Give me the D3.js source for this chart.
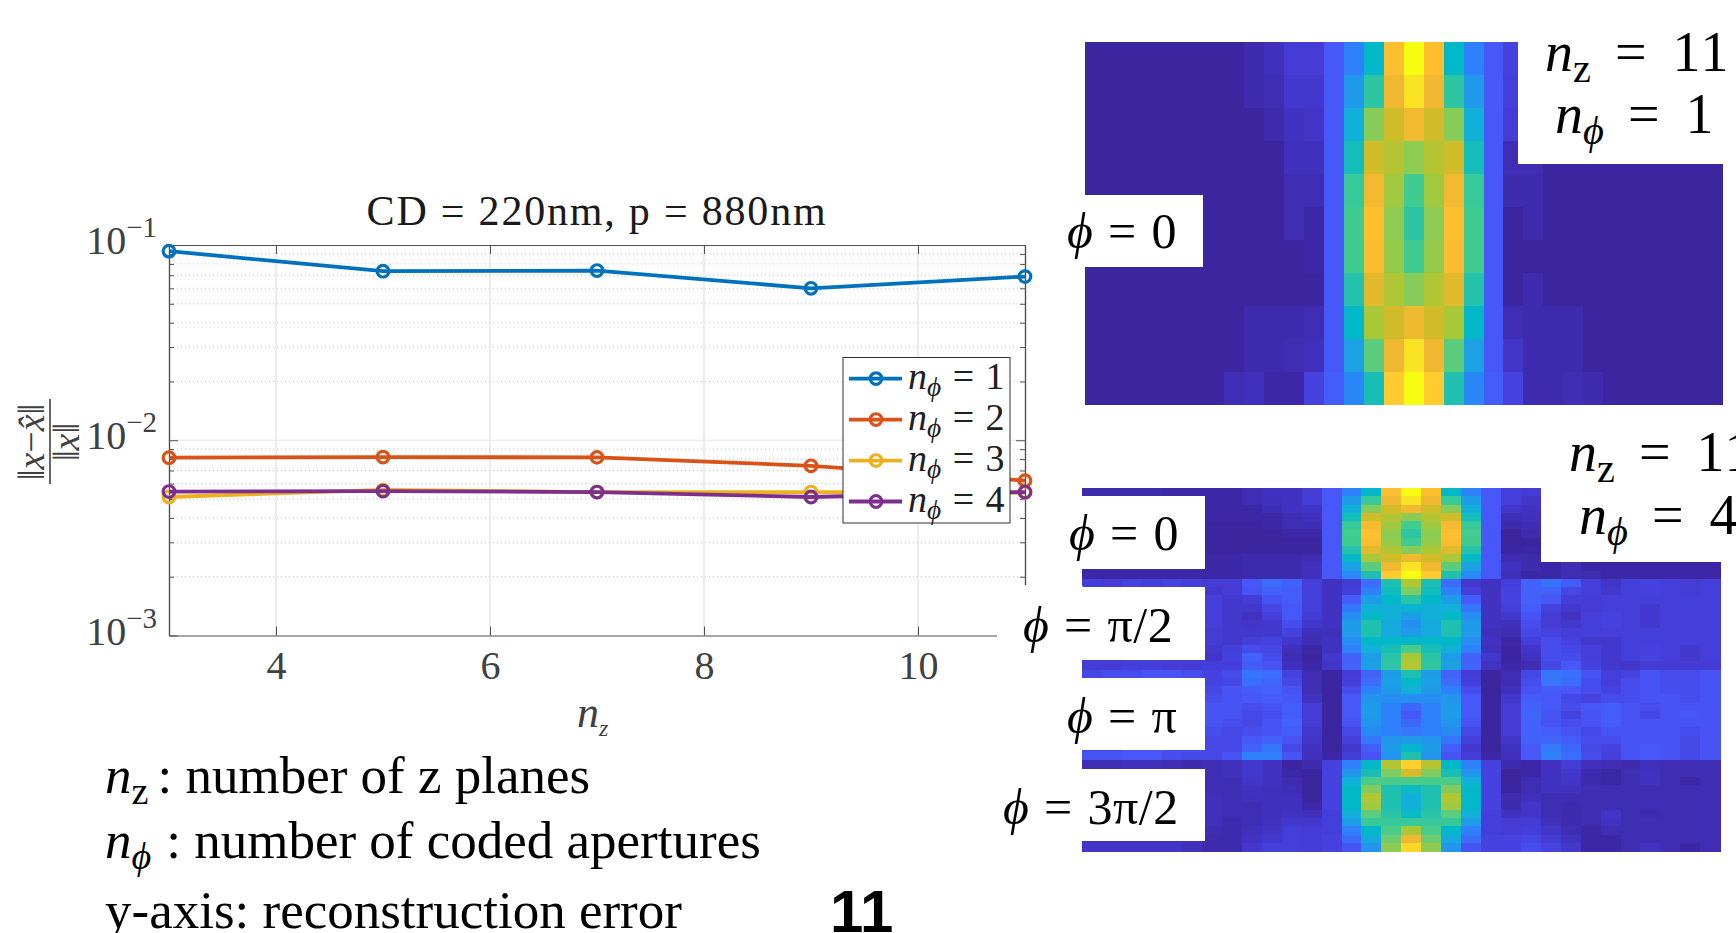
<!DOCTYPE html>
<html>
<head>
<meta charset="utf-8">
<script src="https://cdn.jsdelivr.net/npm/d3@7"></script>
<style>
html, body { margin: 0; padding: 0; background: #fff; overflow: hidden; }
text { font-family: "Liberation Serif", serif; }
</style>
</head>
<body>
<script>
var w = 1736;
var h = 933;

// line chart values
var nzValues = [3, 5, 7, 9, 11];
var errPhi1 = [0.093, 0.0734, 0.074, 0.06, 0.0689];
var errPhi2 = [0.00814, 0.0082, 0.00817, 0.0074, 0.00621];
var errPhi3 = [0.00512, 0.00557, 0.00543, 0.00543, 0.0054];
var errPhi4 = [0.00546, 0.00549, 0.00543, 0.00512, 0.00543];
var seriesValues = [errPhi1, errPhi2, errPhi3, errPhi4];
var seriesNames = ["1", "2", "3", "4"];
var seriesColors = ["#0072BD", "#D95319", "#EDB120", "#7E2F8E"];
var xTicks = [4, 6, 8, 10];
var yTicks = [1e-3, 1e-2, 1e-1];
var yExponents = ["\u22123", "\u22122", "\u22121"];
var yMinorFactors = [2, 3, 4, 5, 6, 7, 8, 9];

// heatmap values, 0 to 100 on the colour bar, x = hidden under a white label
var x = null;
var heatTop = [
[0,0,0,0,0,0,0,0,2,4,8,8,14,22,42,89,100,89,42,22,14,10,x,x,x,x,x,x,x,x,x,x],
[0,0,0,0,0,0,0,0,2,3,7,7,14,29,53,84,96,84,53,29,14,9,x,x,x,x,x,x,x,x,x,x],
[0,0,0,0,0,0,0,0,0,2,5,6,14,38,65,76,85,76,65,38,14,8,x,x,x,x,x,x,x,x,x,x],
[0,0,0,0,0,0,0,0,0,0,4,4,14,47,76,72,66,72,76,47,14,3,3,0,0,0,0,0,0,0,0,0],
[0,0,0,0,0,0,0,0,0,0,3,3,14,55,85,69,57,69,85,55,14,2,2,0,0,0,0,0,0,0,0,0],
[0,0,0,0,0,0,0,0,0,0,3,1,14,57,90,66,53,66,90,57,14,0,2,0,0,0,0,0,0,0,0,0],
[0,0,0,0,0,0,0,0,0,0,0,1,14,57,88,67,57,67,88,57,14,0,0,0,0,0,0,0,0,0,0,0],
[0,0,0,0,0,0,0,0,0,0,0,0,14,51,80,71,65,71,80,51,14,0,2,0,0,0,0,0,0,0,0,0],
[0,0,0,0,0,0,0,0,2,2,2,3,14,42,70,76,83,76,70,42,14,3,2,2,2,0,0,0,0,0,0,0],
[0,0,0,0,0,0,0,0,2,2,3,4,14,32,60,84,96,84,60,32,14,6,2,2,2,0,0,0,0,0,0,0],
[0,0,0,0,0,0,0,3,4,1,1,10,15,24,48,92,100,92,50,24,15,10,2,2,3,2,0,0,0,0,0,0]
];
var heatBottom = [
[2,2,2,2,1,1,1,1,3,5,5,8,14,22,42,89,100,89,42,22,14,9,8,x,x,x,x,x,x,x,x,x],
[x,x,x,x,x,x,1,1,3,4,5,8,14,30,55,84,96,84,55,30,14,9,6,x,x,x,x,x,x,x,x,x],
[x,x,x,x,x,x,1,1,1,3,5,6,14,38,65,76,85,76,65,38,14,6,5,x,x,x,x,x,x,x,x,x],
[x,x,x,x,x,x,1,1,1,1,3,4,14,47,76,72,66,72,76,47,14,3,4,x,x,x,x,x,x,x,x,x],
[x,x,x,x,x,x,0,0,0,1,3,3,14,55,86,69,57,69,86,55,14,2,3,x,x,x,x,x,x,x,x,x],
[x,x,x,x,x,x,0,0,0,0,1,1,14,57,90,66,53,66,90,57,14,0,2,x,x,x,x,x,x,x,x,x],
[x,x,x,x,x,x,0,0,0,0,0,0,14,57,88,67,57,67,88,57,14,0,0,x,x,x,x,x,x,x,x,x],
[x,x,x,x,x,x,0,0,0,0,0,0,14,51,80,71,65,71,80,51,14,0,1,x,x,x,x,x,x,x,x,x],
[x,x,x,x,x,x,1,1,2,2,2,3,14,43,70,76,83,76,70,43,14,3,2,x,x,x,x,x,x,x,x,x],
[1,1,1,1,1,1,1,1,2,2,2,4,14,32,60,84,96,84,60,32,14,5,2,1,3,1,1,1,1,1,1,1],
[1,1,1,1,1,1,1,1,2,2,2,4,14,25,50,92,100,92,50,25,14,4,1,1,3,2,1,1,1,1,1,1],
[9,8,10,9,10,9,8,8,14,18,16,9,5,8,18,50,71,49,18,7,5,9,16,19,15,9,6,9,10,9,8,9],
[x,x,x,x,x,x,7,8,13,16,15,9,5,9,22,46,64,46,22,9,5,10,16,16,11,9,7,9,10,9,8,9],
[x,x,x,x,x,x,9,7,8,13,15,9,5,15,30,42,52,42,30,15,5,10,16,14,9,8,9,9,9,9,9,9],
[x,x,x,x,x,x,9,7,7,11,14,9,5,20,38,38,40,38,38,20,5,9,15,10,7,8,9,9,7,9,9,9],
[x,x,x,x,x,x,9,7,5,9,14,8,5,26,43,38,31,38,43,26,5,7,13,8,5,9,10,9,7,9,9,9],
[x,x,x,x,x,x,9,7,6,7,12,7,5,30,50,36,26,36,50,30,5,4,12,8,7,9,10,9,7,9,9,9],
[x,x,x,x,x,x,8,7,7,7,10,4,4,30,50,36,30,36,50,30,4,3,11,10,9,9,9,9,9,9,9,9],
[x,x,x,x,x,x,8,7,9,10,7,3,5,26,42,42,42,42,42,26,5,1,9,12,10,7,7,9,9,9,9,9],
[x,x,x,x,x,x,7,9,12,11,4,1,5,22,38,48,58,48,38,22,4,0,6,12,11,9,7,9,10,9,7,9],
[8,8,9,9,8,8,6,10,16,12,3,0,7,16,30,52,70,52,30,16,7,0,5,12,12,9,7,9,10,9,7,9],
[8,8,9,9,8,8,9,9,15,13,4,1,6,16,32,53,71,53,32,16,5,1,3,11,14,10,7,6,8,8,8,8],
[11,12,12,13,13,12,10,12,20,18,10,3,0,8,16,30,50,30,16,8,0,3,11,20,19,13,9,10,13,12,12,13],
[x,x,x,x,x,x,10,11,18,17,11,3,0,9,18,31,43,31,18,9,0,3,12,20,18,12,9,12,13,12,12,13],
[x,x,x,x,x,x,11,13,15,16,13,3,0,12,22,30,38,30,22,12,0,4,13,15,14,12,10,12,13,12,12,13],
[x,x,x,x,x,x,12,13,14,15,14,5,0,14,28,26,26,26,28,14,0,7,15,14,11,10,12,12,13,13,12,13],
[x,x,x,x,x,x,13,13,12,13,15,8,0,14,30,22,17,22,30,14,0,8,16,14,12,14,15,13,12,13,13,13],
[x,x,x,x,x,x,13,13,11,12,15,8,0,14,30,22,14,22,30,14,0,8,17,13,10,13,15,13,11,13,14,13],
[x,x,x,x,x,x,13,12,11,13,16,8,0,13,28,22,17,22,28,13,0,8,16,13,12,13,15,13,13,13,13,13],
[x,x,x,x,x,x,12,11,12,13,15,7,0,11,25,22,20,22,25,11,0,8,16,15,13,11,13,13,13,13,12,13],
[x,x,x,x,x,x,11,11,14,16,13,6,0,9,20,28,30,28,20,9,0,6,16,17,15,12,12,13,13,13,11,13],
[12,12,13,13,12,12,11,11,16,20,11,5,0,7,15,30,41,30,15,7,0,5,14,21,17,11,10,13,14,13,11,13],
[13,13,14,14,12,11,11,13,22,22,13,4,1,8,13,28,50,28,13,8,1,4,14,22,18,12,9,13,14,13,11,13],
[3,3,4,4,3,2,3,4,7,5,0,2,10,22,42,72,93,72,42,22,10,2,1,5,8,4,3,2,4,3,3,3],
[x,x,x,x,x,x,3,4,7,5,1,0,10,28,48,64,78,64,48,28,10,0,1,5,7,2,1,3,5,3,3,3],
[x,x,x,x,x,x,3,3,6,5,2,0,10,38,58,58,58,58,58,38,10,0,3,5,6,2,1,3,5,3,1,3],
[x,x,x,x,x,x,3,3,5,4,3,0,10,42,64,50,45,50,64,42,10,0,3,5,5,3,3,3,3,3,3,3],
[x,x,x,x,x,x,4,3,4,4,4,0,10,42,71,50,38,50,71,42,10,2,4,3,3,3,3,3,3,3,3,3],
[x,x,x,x,x,x,4,3,3,4,4,1,10,42,69,50,38,50,69,42,10,2,6,3,2,3,3,3,3,3,3,3],
[x,x,x,x,x,x,4,3,3,4,5,4,9,38,60,52,44,52,60,38,9,5,6,3,2,3,6,3,2,3,3,3],
[x,x,x,x,x,x,4,2,3,5,7,7,9,30,55,55,55,55,55,30,9,8,8,4,2,3,5,3,3,3,3,3],
[x,x,x,x,x,x,3,2,4,6,9,8,9,22,42,58,70,58,42,22,9,8,9,6,3,1,3,3,3,3,3,3],
[5,5,5,5,5,4,2,2,5,7,9,8,10,18,36,62,84,62,36,18,10,10,11,8,5,1,1,3,3,3,3,3],
[6,6,6,6,6,4,2,2,7,9,9,8,10,13,28,66,94,66,28,13,10,10,12,10,7,1,1,3,5,3,1,3]
];
var colorStops = [0, 5, 10, 14, 22, 30, 38, 42, 50, 57, 64, 70, 76, 84, 90, 93, 97, 100];
var colorHex = ["#3B26A0", "#4232C2", "#4542E0", "#4858F8", "#2E80FB", "#1E9CE8", "#10B0D8", "#00B8C8", "#20C0B0", "#40CC90", "#80CC60", "#A8C838", "#D0BC28", "#F0B830", "#FFC030", "#FFD030", "#F8E820", "#F8FC10"];

var svg = d3.select("body")
    .append("svg")
    .attr("width", w)
    .attr("height", h)
    .style("display", "block");

var xScale = d3.scaleLinear().domain([3, 11]).range([169, 1025]);
var yScale = d3.scaleLog().domain([1e-3, 1e-1]).range([635.5, 245]);
var heatColor = d3.scaleLinear().domain(colorStops).range(colorHex);

var axisColor = "#505050";
var mathFont = "Liberation Serif";

var yMinor = [];
yTicks.slice(0, 2).forEach(function (t) {
    yMinorFactors.forEach(function (m) {
        yMinor.push(t * m);
    });
});

// grid
var grid = svg.append("g");
grid.selectAll("line.major-x")
    .data(xTicks)
    .enter()
    .append("line")
    .attr("x1", function (d) { return xScale(d); })
    .attr("x2", function (d) { return xScale(d); })
    .attr("y1", yScale(1e-1))
    .attr("y2", yScale(1e-3))
    .attr("stroke", "#e0e0e0")
    .attr("stroke-width", 1.2);
grid.append("line")
    .attr("x1", xScale(3))
    .attr("x2", xScale(11))
    .attr("y1", yScale(1e-2))
    .attr("y2", yScale(1e-2))
    .attr("stroke", "#e6e6e6")
    .attr("stroke-width", 1.2);
grid.selectAll("line.minor-y")
    .data(yMinor)
    .enter()
    .append("line")
    .attr("x1", xScale(3))
    .attr("x2", xScale(11))
    .attr("y1", function (d) { return yScale(d); })
    .attr("y2", function (d) { return yScale(d); })
    .attr("stroke", "#c8c8c8")
    .attr("stroke-width", 1)
    .attr("stroke-dasharray", "1,3");

// axes, all four sides
function styleAxis(g) {
    g.selectAll("path").attr("stroke", axisColor).attr("stroke-width", 1.2);
    g.selectAll("line").attr("stroke", axisColor).attr("stroke-width", 1);
}

var bottomAxis = svg.append("g")
    .attr("transform", "translate(0," + yScale(1e-3) + ")")
    .call(d3.axisBottom(xScale).tickValues(xTicks).tickSize(-9).tickSizeOuter(0).tickPadding(15))
    .call(styleAxis);
bottomAxis.selectAll("text")
    .attr("font-size", 40)
    .attr("font-family", mathFont)
    .attr("fill", "#404040")
    .attr("dy", "0.7em");

svg.append("g")
    .attr("transform", "translate(0," + yScale(1e-1) + ")")
    .call(d3.axisTop(xScale).tickValues(xTicks).tickSize(-9).tickSizeOuter(0).tickFormat(""))
    .call(styleAxis);

svg.append("g")
    .attr("transform", "translate(" + xScale(3) + ",0)")
    .call(d3.axisLeft(yScale).tickValues(yTicks).tickSize(-9).tickSizeOuter(0).tickFormat(""))
    .call(styleAxis);
svg.append("g")
    .attr("transform", "translate(" + xScale(3) + ",0)")
    .call(d3.axisLeft(yScale).tickValues(yMinor).tickSize(-5).tickSizeOuter(0).tickFormat(""))
    .call(styleAxis);
svg.append("g")
    .attr("transform", "translate(" + xScale(11) + ",0)")
    .call(d3.axisRight(yScale).tickValues(yTicks).tickSize(-9).tickSizeOuter(0).tickFormat(""))
    .call(styleAxis);
svg.append("g")
    .attr("transform", "translate(" + xScale(11) + ",0)")
    .call(d3.axisRight(yScale).tickValues(yMinor).tickSize(-5).tickSizeOuter(0).tickFormat(""))
    .call(styleAxis);

// y tick labels with a superscript
var yLabels = svg.append("g");
yTicks.forEach(function (t, i) {
    var label = yLabels.append("text")
        .attr("x", 157)
        .attr("y", yScale(t) + 9)
        .attr("text-anchor", "end")
        .attr("font-size", 40)
        .attr("fill", "#404040");
    label.append("tspan").text("10");
    label.append("tspan")
        .attr("font-size", 29)
        .attr("dy", -17)
        .text(yExponents[i]);
});

// series
var lineGen = d3.line()
    .x(function (d) { return xScale(d[0]); })
    .y(function (d) { return yScale(d[1]); });

seriesValues.forEach(function (values, i) {
    var pts = d3.zip(nzValues, values);
    svg.append("path")
        .attr("d", lineGen(pts))
        .attr("fill", "none")
        .attr("stroke", seriesColors[i])
        .attr("stroke-width", 3.8);
    svg.selectAll("circle.s" + i)
        .data(pts)
        .enter()
        .append("circle")
        .attr("class", "s" + i)
        .attr("cx", function (d) { return xScale(d[0]); })
        .attr("cy", function (d) { return yScale(d[1]); })
        .attr("r", 5.8)
        .attr("fill", "none")
        .attr("stroke", seriesColors[i])
        .attr("stroke-width", 3.2);
});

// writes n with a subscript and whatever comes after it
function mathText(parent, px, py, size, sub, rest, fill) {
    var t = parent.append("text")
        .attr("x", px)
        .attr("y", py)
        .attr("font-size", size)
        .attr("fill", fill || "#000");
    t.append("tspan").attr("font-style", "italic").text("n");
    t.append("tspan")
        .attr("font-style", sub === "\u03D5" ? "italic" : "normal")
        .attr("font-size", size * 0.72)
        .attr("dy", size * 0.2)
        .text(sub);
    t.append("tspan")
        .attr("dy", -size * 0.2)
        .attr("xml:space", "preserve")
        .text(rest);
    return t;
}

// legend
var legend = svg.append("g");
legend.append("rect")
    .attr("x", 843)
    .attr("y", 357.5)
    .attr("width", 167)
    .attr("height", 165.5)
    .attr("fill", "#fff")
    .attr("stroke", "#303030")
    .attr("stroke-width", 1);
var legendRowY = d3.scaleLinear().domain([0, 3]).range([378.6, 501.5]);
seriesNames.forEach(function (name, i) {
    var ly = legendRowY(i);
    legend.append("line")
        .attr("x1", 849)
        .attr("x2", 902)
        .attr("y1", ly)
        .attr("y2", ly)
        .attr("stroke", seriesColors[i])
        .attr("stroke-width", 3.8);
    legend.append("circle")
        .attr("cx", 876)
        .attr("cy", ly)
        .attr("r", 5.8)
        .attr("fill", "none")
        .attr("stroke", seriesColors[i])
        .attr("stroke-width", 3.2);
    mathText(legend, 908, ly + 10, 38, "\u03D5", " = " + name, "#202020")
        .attr("word-spacing", 2);
});

// title and axis label
svg.append("text")
    .attr("x", 597)
    .attr("y", 225)
    .attr("text-anchor", "middle")
    .attr("font-size", 42)
    .attr("letter-spacing", 1.8)
    .attr("fill", "#1a1a1a")
    .attr("xml:space", "preserve")
    .text("CD = 220nm, p = 880nm");

var xLabel = mathText(svg, 577, 727, 44, "z", "", "#404040");
xLabel.select("tspan:nth-child(2)")
    .attr("font-style", "italic")
    .attr("font-size", 24);

var yLabel = svg.append("g").attr("fill", "#404040");
var yNumerator = yLabel.append("text")
    .attr("transform", "translate(44,442) rotate(-90)")
    .attr("text-anchor", "middle")
    .attr("font-size", 38);
yNumerator.append("tspan").text("\u2016");
yNumerator.append("tspan").attr("font-style", "italic").text("x");
yNumerator.append("tspan").text("\u2212");
yNumerator.append("tspan").attr("font-style", "italic").text("x\u0302");
yNumerator.append("tspan").text("\u2016");
yLabel.append("line")
    .attr("x1", 50)
    .attr("x2", 50)
    .attr("y1", 399)
    .attr("y2", 484)
    .attr("stroke", "#404040")
    .attr("stroke-width", 1.6);
var yDenominator = yLabel.append("text")
    .attr("transform", "translate(79,442) rotate(-90)")
    .attr("text-anchor", "middle")
    .attr("font-size", 38);
yDenominator.append("tspan").text("\u2016");
yDenominator.append("tspan").attr("font-style", "italic").text("x");
yDenominator.append("tspan").text("\u2016");

// heatmaps
function drawHeat(rows, left, right, top, bottom, name) {
    var colScale = d3.scaleBand().domain(d3.range(rows[0].length)).range([left, right]);
    var rowScale = d3.scaleBand().domain(d3.range(rows.length)).range([top, bottom]);
    var g = svg.append("g").attr("class", name).attr("shape-rendering", "crispEdges");
    rows.forEach(function (row, r) {
        g.selectAll("rect.r" + r)
            .data(row.map(function (v, c) { return [c, v]; }).filter(function (d) { return d[1] !== null; }))
            .enter()
            .append("rect")
            .attr("class", "r" + r)
            .attr("x", function (d) { return colScale(d[0]); })
            .attr("y", rowScale(r))
            .attr("width", colScale.bandwidth() + 0.5)
            .attr("height", rowScale.bandwidth() + 0.5)
            .attr("fill", function (d) { return heatColor(d[1]); });
    });
}

drawHeat(heatTop, 1085, 1722.6, 42.3, 404.5, "heat-top");
drawHeat(heatBottom, 1082.4, 1720.2, 488, 851, "heat-bottom");

// white boxes that hold the labels
var boxData = [
    [1518, 0, 218, 164],
    [1060, 195, 143, 72],
    [1541, 440, 195, 122],
    [1060, 496, 145, 73],
    [997, 585, 85.4, 75],
    [1082, 587, 123, 73],
    [1060, 678, 145, 72],
    [997, 769, 208, 72]
];
svg.selectAll("rect.box")
    .data(boxData)
    .enter()
    .append("rect")
    .attr("class", "box")
    .attr("x", function (d) { return d[0]; })
    .attr("y", function (d) { return d[1]; })
    .attr("width", function (d) { return d[2]; })
    .attr("height", function (d) { return d[3]; })
    .attr("fill", "#fff");

var labels = svg.append("g");
function bigLabel(px, py, sub, rest) {
    var t = mathText(labels, px, py, 56, sub, rest);
    t.select("tspan:nth-child(3)")
        .attr("letter-spacing", 2)
        .attr("word-spacing", 8);
}
bigLabel(1545, 71, "z", " = 11");
bigLabel(1555, 133, "\u03D5", " = 1");
bigLabel(1569, 471, "z", " = 11");
bigLabel(1579, 534, "\u03D5", " = 4");

var phiLabelX = [1067, 1069, 1023, 1067, 1003];
var phiLabelY = [248, 550, 642, 733, 824];
var phiLabelText = ["0", "0", "\u03C0/2", "\u03C0", "3\u03C0/2"];
phiLabelText.forEach(function (s, i) {
    var t = labels.append("text")
        .attr("x", phiLabelX[i])
        .attr("y", phiLabelY[i])
        .attr("font-size", 50)
        .attr("xml:space", "preserve");
    t.append("tspan").attr("font-style", "italic").text("\u03D5");
    t.append("tspan")
        .attr("letter-spacing", 0.5)
        .attr("word-spacing", 2)
        .text(" = " + s);
});

// notes under the chart
var notes = svg.append("g");
var noteZ = mathText(notes, 105, 793, 53, "z", ": number of z planes");
noteZ.select("tspan:nth-child(3)").attr("dx", 9);
var notePhi = mathText(notes, 105, 858, 53, "\u03D5", ": number of coded apertures");
notePhi.select("tspan:nth-child(3)").attr("dx", 15);
notes.append("text")
    .attr("x", 105)
    .attr("y", 928)
    .attr("font-size", 53)
    .text("y-axis: reconstruction error");

svg.append("text")
    .attr("x", 830)
    .attr("y", 932)
    .attr("font-size", 60)
    .attr("font-weight", "bold")
    .style("font-family", "Liberation Sans")
    .text("11");
</script>
</body>
</html>
